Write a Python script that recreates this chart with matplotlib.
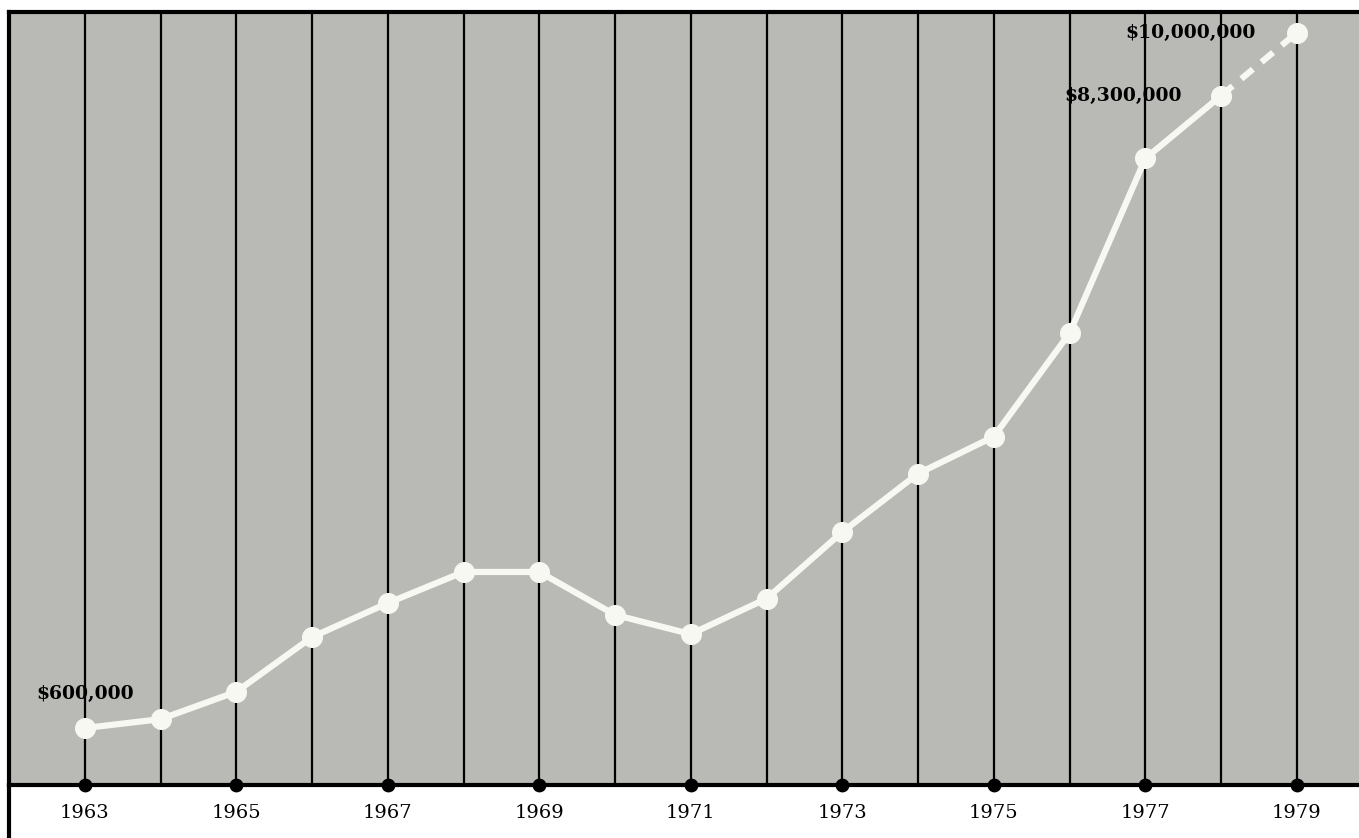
import numpy as np
import matplotlib.pyplot as plt
from matplotlib.lines import Line2D

# 数据 (百万美元)
years = [1963, 1964, 1965, 1966, 1967, 1968, 1969, 1970, 1971,
         1972, 1973, 1974, 1975, 1976, 1977, 1978]
sales = [0.6, 0.72, 1.09, 1.83, 2.29, 2.71, 2.71, 2.13, 1.87,
         2.35, 3.25, 4.04, 4.54, 5.94, 8.3, 9.15]
proj_years = [1978, 1979]
proj_sales = [9.15, 10.0]
tick_years = [1963, 1965, 1967, 1969, 1971, 1973, 1975, 1977, 1979]
label_years = [1963, 1977, 1979]
label_values = [0.6, 8.3, 10.0]
label_texts = ['$600,000', '$8,300,000', '$10,000,000']

bg = '#b9bab5'
fig = plt.figure(figsize=(13.59, 8.38), dpi=100)
ax = fig.add_axes([9 / 1359, 53 / 838, 1350 / 1359, 773 / 838])
ax.set_facecolor(bg)
ax.set_xlim(1962.0, 1979.82)
ax.set_ylim(-0.17, 10.28)

# 竖线
for yr in range(1963, 1980):
    ax.axvline(yr, color='black', lw=1.6, zorder=1)

line_c = '#f8f8f2'
ax.plot(years, sales, color=line_c, lw=4.5, solid_capstyle='round', zorder=3)
ax.plot(proj_years, proj_sales, color=line_c, lw=4.5, dashes=(2.4, 1.8), zorder=3)
ax.scatter(years + [1979], sales + [10.0], s=200, color=line_c, zorder=4)

# 底部黑点
ax.scatter(tick_years, [-0.17] * len(tick_years), s=80, color='black',
           zorder=5, clip_on=False)

# 标签
offsets = [(0.0, 0.46), (-0.3, 0.85), (-1.4, 0.0)]
for x, y, s, (dx, dy) in zip(label_years, label_values, label_texts, offsets):
    ax.text(x + dx, y + dy, s, ha='center', va='center', fontsize=13.5,
            fontweight='bold', family='DejaVu Serif', zorder=6)

ax.set_xticks(tick_years)
ax.set_xticklabels([str(t) for t in tick_years], family='DejaVu Serif', fontsize=14)
ax.tick_params(axis='x', length=0, pad=14)
ax.set_yticks([])

ax.spines['right'].set_visible(False)
for side in ['bottom', 'top', 'left']:
    ax.spines[side].set_linewidth(3)

# 左边线延伸到底部
fig.add_artist(Line2D([9 / 1359, 9 / 1359], [0, 53 / 838], color='black', lw=3,
                      transform=fig.transFigure))

fig.savefig('out.png', dpi=100)
